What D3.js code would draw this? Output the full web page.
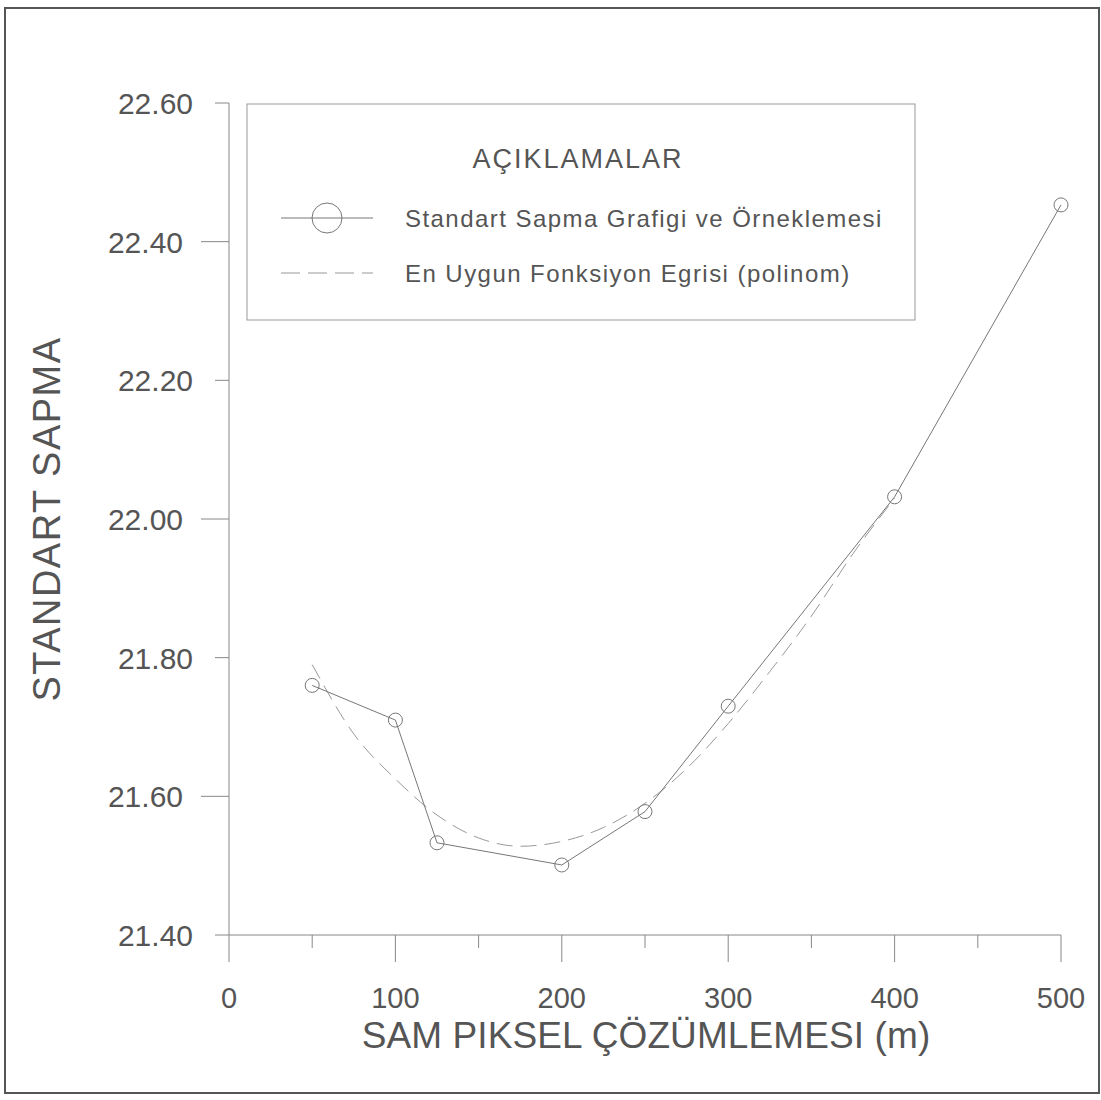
<!DOCTYPE html>
<meta charset="utf-8">
<style>
body { margin: 0; background: #fff; }
text { font-family: "Liberation Sans", Arial, sans-serif; fill: #555; }
</style>
<svg width="1101" height="1100" id="svg"></svg>
<script src="https://d3js.org/d3.v7.min.js"></script>
<script>

// sample points (SAM pixel resolution in m, standard deviation)
var resolution = [50, 100, 125, 200, 250, 300, 400, 500];
var stdDev = [21.76, 21.71, 21.533, 21.501, 21.578, 21.73, 22.032, 22.453];

// best fit polynomial curve
var fitX = [50, 75, 100, 125, 150, 175, 200, 225, 250, 275, 300, 325, 350, 375, 400];
var fitY = [21.79, 21.69, 21.625, 21.573, 21.54, 21.528, 21.535, 21.555, 21.59, 21.64, 21.705, 21.78, 21.86, 21.95, 22.03];

var xTicks = [0, 50, 100, 150, 200, 250, 300, 350, 400, 450, 500];
var xLabels = [0, 100, 200, 300, 400, 500];
var yTicks = [21.4, 21.6, 21.8, 22.0, 22.2, 22.4, 22.6];
var yLongTicks = [21.6, 22.0, 22.4];

var svg = d3.select("svg");

var x = d3.scaleLinear().domain([0, 500]).range([229, 1061]);
var y = d3.scaleLinear().domain([21.4, 22.6]).range([935, 103]);

// outer frame
svg.append("rect")
    .attr("x", 5).attr("y", 8)
    .attr("width", 1094).attr("height", 1085)
    .attr("fill", "none")
    .attr("stroke", "#555")
    .attr("stroke-width", 2);

// axes
var xAxis = svg.append("g");
xAxis.append("line")
    .attr("x1", x(0)).attr("x2", x(500))
    .attr("y1", y(21.4)).attr("y2", y(21.4))
    .attr("stroke", "#888");
xAxis.selectAll(".xt")
    .data(xTicks)
  .enter().append("line")
    .attr("x1", function(d) { return x(d); })
    .attr("x2", function(d) { return x(d); })
    .attr("y1", y(21.4))
    .attr("y2", function(d) { return y(21.4) + (d % 100 === 0 ? 27 : 13); })
    .attr("stroke", "#888");
xAxis.selectAll(".xl")
    .data(xLabels)
  .enter().append("text")
    .attr("x", function(d) { return x(d); })
    .attr("y", 1008)
    .attr("text-anchor", "middle")
    .attr("font-size", 29)
    .text(function(d) { return d; });

var yAxis = svg.append("g");
yAxis.append("line")
    .attr("x1", x(0)).attr("x2", x(0))
    .attr("y1", y(21.4)).attr("y2", y(22.6))
    .attr("stroke", "#888");
yAxis.selectAll(".yt")
    .data(yTicks)
  .enter().append("line")
    .attr("x1", function(d) { return x(0) - (yLongTicks.indexOf(d) >= 0 ? 28 : 14); })
    .attr("x2", x(0))
    .attr("y1", function(d) { return y(d); })
    .attr("y2", function(d) { return y(d); })
    .attr("stroke", "#888");
yAxis.selectAll(".yl")
    .data(yTicks)
  .enter().append("text")
    .attr("x", function(d) { return x(0) - (yLongTicks.indexOf(d) >= 0 ? 46 : 36); })
    .attr("y", function(d) { return y(d) + 11; })
    .attr("text-anchor", "end")
    .attr("font-size", 30)
    .text(function(d) { return d.toFixed(2); });

// axis titles
svg.append("text")
    .attr("x", 646).attr("y", 1048)
    .attr("text-anchor", "middle")
    .attr("font-size", 37)
    .attr("letter-spacing", 0.1)
    .text("SAM PIKSEL ÇÖZÜMLEMESI (m)");
svg.append("text")
    .attr("transform", "translate(60," + y(22.0) + ") rotate(-90)")
    .attr("text-anchor", "middle")
    .attr("font-size", 38)
    .attr("letter-spacing", 1.5)
    .text("STANDART SAPMA");

// fit curve
var fitLine = d3.line()
    .x(function(d) { return x(d[0]); })
    .y(function(d) { return y(d[1]); })
    .curve(d3.curveMonotoneX);
svg.append("path")
    .datum(d3.zip(fitX, fitY))
    .attr("d", fitLine)
    .attr("fill", "none")
    .attr("stroke", "#999")
    .attr("stroke-dasharray", "16,8");

// data line
var dataLine = d3.line()
    .x(function(d) { return x(d[0]); })
    .y(function(d) { return y(d[1]); });
svg.append("path")
    .datum(d3.zip(resolution, stdDev))
    .attr("d", dataLine)
    .attr("fill", "none")
    .attr("stroke", "#777");
svg.selectAll(".pt")
    .data(d3.zip(resolution, stdDev))
  .enter().append("circle")
    .attr("cx", function(d) { return x(d[0]); })
    .attr("cy", function(d) { return y(d[1]); })
    .attr("r", 7)
    .attr("fill", "none")
    .attr("stroke", "#777");

// legend
var legend = svg.append("g");
legend.append("rect")
    .attr("x", 247).attr("y", 104)
    .attr("width", 668).attr("height", 216)
    .attr("fill", "#fff")
    .attr("stroke", "#999");
legend.append("text")
    .attr("x", 578).attr("y", 168)
    .attr("text-anchor", "middle")
    .attr("font-size", 27)
    .attr("letter-spacing", 2)
    .text("AÇIKLAMALAR");
legend.append("line")
    .attr("x1", 281).attr("x2", 373).attr("y1", 218).attr("y2", 218)
    .attr("stroke", "#777");
legend.append("circle")
    .attr("cx", 327).attr("cy", 218).attr("r", 15)
    .attr("fill", "none").attr("stroke", "#777");
legend.append("text")
    .attr("x", 405).attr("y", 227)
    .attr("font-size", 24)
    .attr("letter-spacing", 1.45)
    .text("Standart Sapma Grafigi ve Örneklemesi");
legend.append("line")
    .attr("x1", 281).attr("x2", 373).attr("y1", 273).attr("y2", 273)
    .attr("stroke", "#999")
    .attr("stroke-dasharray", "19,8");
legend.append("text")
    .attr("x", 405).attr("y", 282)
    .attr("font-size", 24)
    .attr("letter-spacing", 1.45)
    .text("En Uygun Fonksiyon Egrisi (polinom)");

</script>
